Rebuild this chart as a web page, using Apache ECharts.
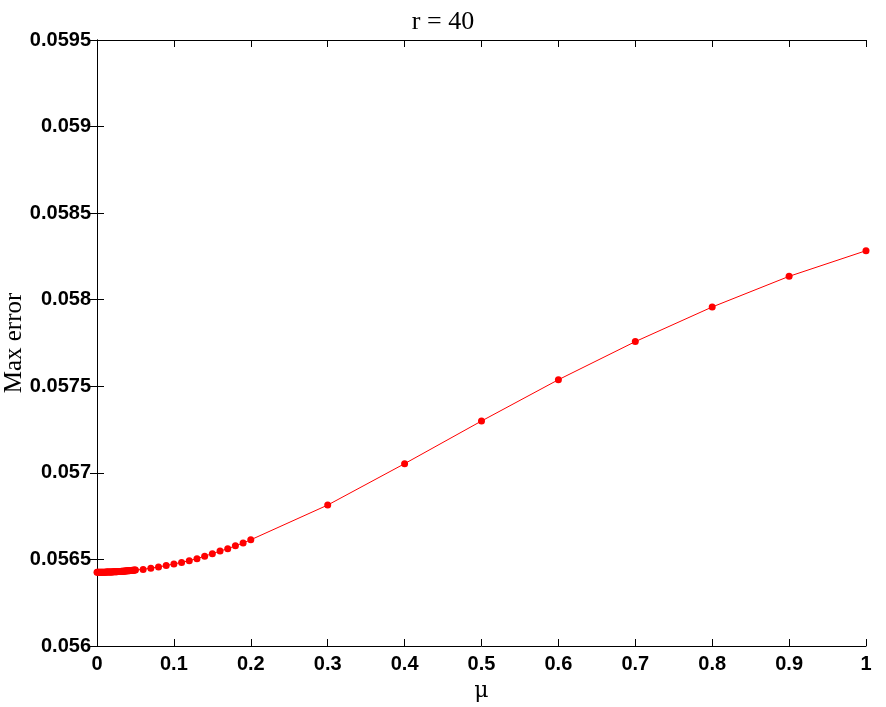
<!DOCTYPE html>
<html>
<head>
<meta charset="utf-8">
<script src="https://cdn.jsdelivr.net/npm/echarts@6/dist/echarts.min.js"></script>
<style>html,body{margin:0;padding:0;background:#fff;}#c{width:886px;height:707px;}</style>
</head>
<body>
<div id="c"></div>
<script>
var muValues = [
  0, 0.001, 0.002, 0.003, 0.004, 0.005, 0.006, 0.007, 0.008, 0.009,
  0.010, 0.011, 0.012, 0.013, 0.014, 0.015, 0.016, 0.017, 0.018, 0.019,
  0.020, 0.021, 0.022, 0.023, 0.024, 0.025, 0.026, 0.027, 0.028, 0.029,
  0.030, 0.031, 0.032, 0.033, 0.034, 0.035, 0.036, 0.037, 0.038, 0.039,
  0.040, 0.041, 0.042, 0.043, 0.044, 0.045, 0.046, 0.047, 0.048, 0.049,
  0.050, 0.06, 0.07, 0.08, 0.09, 0.10, 0.11, 0.12, 0.13, 0.14,
  0.15, 0.16, 0.17, 0.18, 0.19, 0.20, 0.3, 0.4, 0.5, 0.6,
  0.7, 0.8, 0.9, 1.0
];
var maxError = [
  0.0564260, 0.0564260, 0.0564260, 0.0564260, 0.0564261, 0.0564261, 0.0564262, 0.0564263, 0.0564263, 0.0564264,
  0.0564265, 0.0564266, 0.0564267, 0.0564269, 0.0564270, 0.0564272, 0.0564273, 0.0564275, 0.0564277, 0.0564279,
  0.0564281, 0.0564283, 0.0564285, 0.0564288, 0.0564290, 0.0564293, 0.0564295, 0.0564298, 0.0564301, 0.0564304,
  0.0564307, 0.0564310, 0.0564313, 0.0564317, 0.0564320, 0.0564324, 0.0564327, 0.0564331, 0.0564335, 0.0564339,
  0.0564343, 0.0564347, 0.0564352, 0.0564356, 0.0564361, 0.0564365, 0.0564370, 0.0564375, 0.0564380, 0.0564385,
  0.0564390, 0.0564425, 0.0564495, 0.0564565, 0.0564645, 0.0564740, 0.0564825, 0.0564930, 0.0565045, 0.0565190,
  0.0565335, 0.0565480, 0.0565620, 0.0565785, 0.0565950, 0.0566135, 0.0568140, 0.0570530, 0.0572995, 0.0575380,
  0.0577580, 0.0579580, 0.0581350, 0.0582830
];
var xTicks = [0, 0.1, 0.2, 0.3, 0.4, 0.5, 0.6, 0.7, 0.8, 0.9, 1];
var yTicks = [0.056, 0.0565, 0.057, 0.0575, 0.058, 0.0585, 0.059, 0.0595];
var titleText = 'r = 40';
var xName = 'μ';
var yName = 'Max error';

var chart = echarts.init(document.getElementById('c'), null, {renderer: 'canvas'});
var pts = muValues.map(function (m, i) { return [m, maxError[i]]; });
function fmtY(v) { return parseFloat(v.toFixed(5)).toString(); }
function fmtX(v) { return parseFloat(v.toFixed(2)).toString(); }
var labelFont = {color: '#000', fontFamily: 'Liberation Sans, Arial, sans-serif', fontWeight: 'bold', fontSize: 20};
var axisLineStyle = {show: true, lineStyle: {color: '#000', width: 1}};
var tickStyle = {show: true, inside: true, length: 7, lineStyle: {color: '#000', width: 1}};

chart.setOption({
  animation: false,
  backgroundColor: '#fff',
  title: {
    text: titleText, left: 'center', top: 4,
    textStyle: {fontFamily: 'Liberation Serif, DejaVu Serif, serif', fontWeight: 'normal', fontSize: 26, color: '#000'}
  },
  grid: {left: 97, right: 20, top: 40, bottom: 61, containLabel: false, outerBoundsMode: 'none'},
  xAxis: [{
    type: 'value', min: 0, max: 1, interval: 0.1, position: 'bottom',
    axisLine: axisLineStyle, axisTick: tickStyle, splitLine: {show: false},
    axisLabel: Object.assign({margin: 8, formatter: fmtX}, labelFont),
    name: xName, nameLocation: 'middle', nameGap: 34, nameMoveOverlap: false,
    nameTextStyle: {fontFamily: 'DejaVu Serif, serif', fontSize: 22, color: '#000'}
  }, {
    type: 'value', min: 0, max: 1, interval: 0.1, position: 'top',
    axisLine: axisLineStyle, axisTick: tickStyle, splitLine: {show: false},
    axisLabel: {show: false}
  }],
  yAxis: [{
    type: 'value', min: 0.056, max: 0.0595, interval: 0.0005, position: 'left',
    axisLine: axisLineStyle, axisTick: tickStyle, splitLine: {show: false},
    axisLabel: Object.assign({margin: 6, formatter: fmtY}, labelFont),
    name: yName, nameLocation: 'middle', nameGap: 70, nameRotate: 90, nameMoveOverlap: false,
    nameTextStyle: {fontFamily: 'Liberation Serif, DejaVu Serif, serif', fontSize: 25, color: '#000'}
  }, {
    type: 'value', min: 0.056, max: 0.0595, interval: 0.0005, position: 'right',
    axisLine: axisLineStyle, axisTick: tickStyle, splitLine: {show: false},
    axisLabel: {show: false}
  }],
  series: [{
    type: 'line', data: pts, xAxisIndex: 0, yAxisIndex: 0,
    symbol: 'circle', symbolSize: 7, showSymbol: true,
    lineStyle: {color: '#ff0000', width: 1},
    itemStyle: {color: '#ff0000'},
    clip: false
  }]
});
</script>
</body>
</html>
